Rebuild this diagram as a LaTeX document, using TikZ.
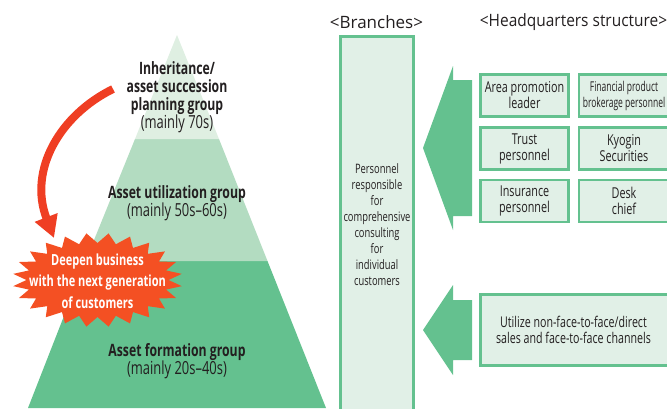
\documentclass[tikz,border=0pt]{standalone}
\usepackage{fontspec}
\setmainfont[FakeStretch=0.72]{Open Sans}
\newfontfamily\headfont[FakeStretch=0.91]{Open Sans}
\newfontfamily\widefont{Open Sans}
\newfontfamily\narrowfont[FakeStretch=0.63]{Open Sans}
\usetikzlibrary{arrows.meta}
\definecolor{gA}{HTML}{DFEFE2}
\definecolor{gB}{HTML}{B3DCC1}
\definecolor{gC}{HTML}{64C18F}
\definecolor{gBox}{HTML}{E1F0E7}
\definecolor{inkc}{HTML}{231F20}
\definecolor{redA}{HTML}{EF3E23}
\definecolor{redB}{HTML}{F45023}
\newcommand\pnote[1]{{\fontsize{18}{18}\selectfont #1}}
\tikzset{
  x=1pt,y=-1pt,
  txt/.style={align=center,text=inkc,inner sep=0pt,font=\fontsize{15}{16}\selectfont},
  pyr/.style={align=center,text=inkc,inner sep=0pt,font=\fontsize{17}{18}\selectfont},
  head/.style={text=inkc,inner sep=0pt,font=\headfont\fontsize{17}{18}\selectfont},
  gbox/.style={draw=gC,fill=gBox,line width=2.4pt},
  hqbox/.style={gbox,txt,minimum height=42pt,execute at begin node={\rule{0pt}{17pt}}},
  blockarrow/.style={fill=gC,draw=none},
}
\begin{document}
\begin{tikzpicture}
\useasboundingbox (0,0) rectangle (667,408);
\clip (0,0) rectangle (667,408);
% pyramid
\fill[gC] (85.5,261) -- (267.5,261) -- (326,408) -- (28,408) -- cycle;
\fill[gB] (135,139) -- (219,139) -- (267.5,261) -- (85.5,261) -- cycle;
\fill[gA] (177,35) -- (219,139) -- (135,139) -- cycle;
\node[pyr] (inh) at (177,97) {\textbf{Inheritance/}\\\textbf{asset succession}\\\textbf{planning group}\\\pnote{(mainly 70s)}};
\node[pyr] (util) at (177,203) {\textbf{Asset utilization group}\\\pnote{(mainly 50s--60s)}};
\node[pyr] (form) at (177,361) {\textbf{Asset formation group}\\\pnote{(mainly 20s--40s)}};
% red arrow
\coordinate (redstart) at (113,89);
\coordinate (redtip) at (54,238);
\draw[redA,line width=8pt,-{Triangle[length=22pt,width=23pt]}] (redstart) .. controls (60,115) and (28,170) .. (redtip);
% starburst
\fill[redB] \foreach \k in {0,...,23} {
  \ifnum\k=0 ({97.5+85*cos(7.5)},{280+47*sin(7.5)}) \else -- ({97.5+85*cos(7.5+15*\k)},{280+47*sin(7.5+15*\k)}) \fi
  -- ({97.5+71*cos(15+15*\k)},{280+37*sin(15+15*\k)})
} -- cycle;
\node[align=center,text=white,inner sep=0pt,font=\fontsize{15.3}{21.5}\selectfont\bfseries] (burst) at (97.5,281) {Deepen business\\with the next generation\\of customers};
% headings
\node[inner sep=0pt,text=inkc,font=\widefont\fontsize{17}{18}\selectfont] (hbr) at (376.5,22) {<Branches>};
\node[head] (hhq) at (573.5,22) {<Headquarters structure>};
% branches box
\draw[gbox] (340.5,36.5) rectangle (413.5,412);
\node[txt,font=\fontsize{13}{16}\selectfont] (brtxt) at (377,225) {Personnel\\responsible\\for\\comprehensive\\consulting\\for\\individual\\customers};
% block arrows
\fill[blockarrow] (423,148) -- (453,66) -- (453,80) -- (472,80) -- (472,216) -- (453,216) -- (453,230) -- cycle;
\fill[blockarrow] (423,330) -- (453,285) -- (453,300) -- (472,300) -- (472,360) -- (453,360) -- (453,375) -- cycle;
% headquarters boxes
\node[hqbox,minimum width=88pt] (area) at (524.5,95.5) {Area promotion\\leader};
\node[hqbox,minimum width=90pt,font=\narrowfont\fontsize{13.5}{16}\selectfont] (fin) at (624,95.5) {Financial product\\brokerage personnel};
\node[hqbox,minimum width=88pt] (trust) at (524.5,148.5) {Trust\\personnel};
\node[hqbox,minimum width=90pt] (kyo) at (624,148.5) {Kyogin\\Securities};
\node[hqbox,minimum width=88pt] (ins) at (524.5,201) {Insurance\\personnel};
\node[hqbox,minimum width=90pt] (desk) at (624,201) {Desk\\chief};
\node[gbox,txt,minimum width=189pt,minimum height=71pt] (chan) at (575,330) {\phantom{x}};
\node[txt,font=\fontsize{14.8}{16}\selectfont] (chantxt) at (573.5,330) {Utilize non-face-to-face/direct\\sales and face-to-face channels};
\end{tikzpicture}
\end{document}
